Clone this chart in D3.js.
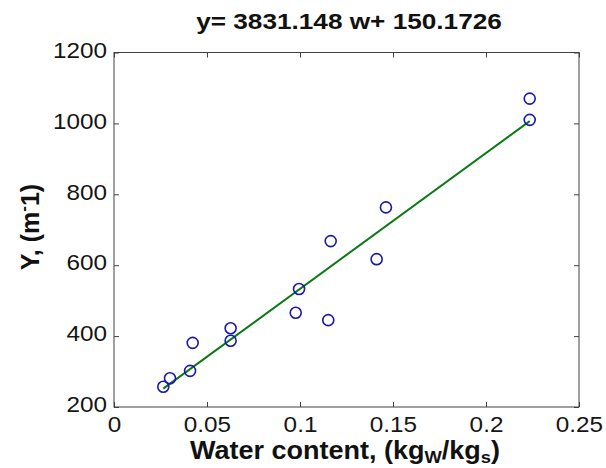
<!DOCTYPE html>
<html>
<head>
<meta charset="utf-8">
<script src="https://cdn.jsdelivr.net/npm/d3@7/dist/d3.min.js"></script>
<style>
  html, body { margin: 0; padding: 0; background: #fff; }
  svg { display: block; }
  text { font-family: "Liberation Sans", Arial, Helvetica, sans-serif; }
</style>
</head>
<body>
<svg id="chart" width="606" height="468"></svg>
<script>
// ---- data ----
const waterContent = [0.0265, 0.0301, 0.0409, 0.0423, 0.0627, 0.0627, 0.0977, 0.0995, 0.1152, 0.1165, 0.1412, 0.1462, 0.2235, 0.2235];
const yValues      = [257, 281, 302, 381, 387, 422, 466, 533, 445, 668, 617, 763, 1010, 1070];
const fitSlope = 3831.148;
const fitIntercept = 150.1726;
const fitLineW = [0.0265, 0.2235];
const fitLineY = [251.7, 1006.5];
const xTicks = [0, 0.05, 0.1, 0.15, 0.2, 0.25];
const xTickLabels = ["0", "0.05", "0.1", "0.15", "0.2", "0.25"];
const yTicks = [200, 400, 600, 800, 1000, 1200];
const yTickLabels = ["200", "400", "600", "800", "1000", "1200"];

const svg = d3.select("#chart");
const pLeft = 114, pRight = 579, pTop = 52.5, pBottom = 407;

const x = d3.scaleLinear().domain([0, 0.25]).range([pLeft, pRight]);
const y = d3.scaleLinear().domain([200, 1200]).range([pBottom, pTop]);

const axisColor = "#404040";
const tickLen = 5;
const tickFont = 21.5;
const tickStretch = 1.13;

// bottom axis (ticks inward)
const gx = svg.append("g").attr("transform", `translate(0,${pBottom})`)
  .call(d3.axisBottom(x).tickValues(xTicks).tickFormat((d, i) => xTickLabels[i])
    .tickSizeInner(-tickLen).tickSizeOuter(0));
gx.select(".domain").remove();
gx.selectAll("line").attr("stroke", axisColor);
gx.selectAll("text")
  .attr("font-size", tickFont).attr("fill", "#151515")
  .attr("font-family", '"Liberation Sans", Arial, sans-serif')
  .attr("y", 24.7).attr("dy", 0)
  .attr("transform", `scale(${tickStretch},1)`);

// top axis ticks
const gxt = svg.append("g").attr("transform", `translate(0,${pTop})`)
  .call(d3.axisTop(x).tickValues(xTicks).tickFormat("").tickSizeInner(-tickLen).tickSizeOuter(0));
gxt.select(".domain").remove();
gxt.selectAll("line").attr("stroke", axisColor);

// left axis
const gy = svg.append("g").attr("transform", `translate(${pLeft},0)`)
  .call(d3.axisLeft(y).tickValues(yTicks).tickFormat((d, i) => yTickLabels[i])
    .tickSizeInner(-tickLen).tickSizeOuter(0));
gy.select(".domain").remove();
gy.selectAll("line").attr("stroke", axisColor);
gy.selectAll("text")
  .attr("font-size", tickFont).attr("fill", "#151515")
  .attr("font-family", '"Liberation Sans", Arial, sans-serif')
  .attr("x", -7 / tickStretch).attr("dy", "0.22em")
  .attr("transform", `scale(${tickStretch},1)`);

// right axis ticks
const gyr = svg.append("g").attr("transform", `translate(${pRight},0)`)
  .call(d3.axisRight(y).tickValues(yTicks).tickFormat("").tickSizeInner(-tickLen).tickSizeOuter(0));
gyr.select(".domain").remove();
gyr.selectAll("line").attr("stroke", axisColor);

// box
svg.append("rect")
  .attr("x", pLeft).attr("y", pTop)
  .attr("width", pRight - pLeft).attr("height", pBottom - pTop)
  .attr("fill", "none").attr("stroke", axisColor).attr("stroke-width", 1);

// fit line
const fitData = fitLineW.map((w, i) => [w, fitLineY[i]]);
svg.append("path")
  .datum(fitData)
  .attr("d", d3.line().x(d => x(d[0])).y(d => y(d[1])))
  .attr("fill", "none").attr("stroke", "#0b7a14").attr("stroke-width", 2);

// points
svg.append("g").selectAll("circle")
  .data(waterContent.map((w, i) => [w, yValues[i]]))
  .join("circle")
  .attr("cx", d => x(d[0])).attr("cy", d => y(d[1]))
  .attr("r", 5.5)
  .attr("fill", "none").attr("stroke", "#1a1aa8").attr("stroke-width", 1.6);

// title
svg.append("text")
  .attr("transform", `translate(349,29) scale(1.19,1)`)
  .attr("text-anchor", "middle").attr("font-size", 22).attr("font-weight", "bold")
  .attr("fill", "#111")
  .text(`y= ${fitSlope} w+ ${fitIntercept}`);

// x label
const xl = svg.append("text")
  .attr("transform", `translate(345,459) scale(1.08,1)`)
  .attr("text-anchor", "middle").attr("font-size", 25).attr("font-weight", "bold")
  .attr("fill", "#111");
xl.append("tspan").text("Water content, (kg");
xl.append("tspan").attr("font-size", 17).attr("dy", 4).text("W");
xl.append("tspan").attr("dy", -4).text("/kg");
xl.append("tspan").attr("font-size", 17).attr("dy", 4).text("s");
xl.append("tspan").attr("dy", -4).text(")");

// y label
const yl = svg.append("text")
  .attr("transform", `translate(39,227) rotate(-90)`)
  .attr("text-anchor", "middle").attr("font-size", 25).attr("font-weight", "bold")
  .attr("fill", "#111");
yl.append("tspan").text("Y, (m");
yl.append("tspan").attr("font-size", 17).attr("dy", -10).text("-");
yl.append("tspan").attr("dy", 10).text("1)");
</script>
</body>
</html>
